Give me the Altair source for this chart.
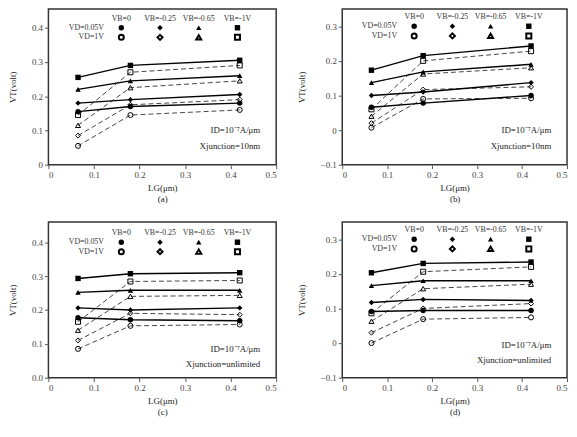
import altair as alt
import pandas as pd

FONT = "Liberation Serif"

# gate lengths (um)
LG = [0.065, 0.18, 0.42]
VB_LABELS = ["VB=0", "VB=-0.25", "VB=-0.65", "VB=-1V"]
SHAPES = ["circle", "diamond", "triangle-up", "square"]
LEGEND_X = [0.16, 0.245, 0.33, 0.415]

# series order: VB=0, VB=-0.25, VB=-0.65, VB=-1V
A_VD_LOW = [[0.155, 0.17, 0.18], [0.18, 0.19, 0.205], [0.22, 0.245, 0.26], [0.255, 0.29, 0.305]]
A_VD_HIGH = [[0.055, 0.145, 0.16], [0.085, 0.175, 0.19], [0.115, 0.225, 0.245], [0.145, 0.27, 0.29]]

B_VD_LOW = [[0.066, 0.078, 0.10], [0.10, 0.11, 0.137], [0.137, 0.168, 0.19], [0.173, 0.215, 0.243]]
B_VD_HIGH = [[0.007, 0.09, 0.092], [0.02, 0.117, 0.125], [0.04, 0.162, 0.18], [0.06, 0.20, 0.228]]

C_VD_LOW = [[0.177, 0.171, 0.168], [0.206, 0.20, 0.206], [0.252, 0.258, 0.258], [0.293, 0.307, 0.31]]
C_VD_HIGH = [[0.085, 0.153, 0.157], [0.11, 0.19, 0.186], [0.14, 0.24, 0.243], [0.165, 0.284, 0.287]]

D_VD_LOW = [[0.091, 0.094, 0.094], [0.117, 0.126, 0.123], [0.166, 0.18, 0.18], [0.203, 0.23, 0.234]]
D_VD_HIGH = [[0.0, 0.069, 0.074], [0.03, 0.10, 0.114], [0.063, 0.157, 0.17], [0.086, 0.206, 0.22]]


def series_frame(low, high):
    rows = []
    for vd, block in (("0.05V", low), ("1V", high)):
        for vb, vals in zip(VB_LABELS, block):
            for x, y in zip(LG, vals):
                rows.append({"vd": vd, "vb": vb, "lg": x, "vt": y})
    return pd.DataFrame(rows)


def make_panel(low, high, ydom, yticks, yfmt, caption, xj_text, ann_y, leg_y, dy, w):
    df = series_frame(low, high)
    xs = alt.X("lg:Q", scale=alt.Scale(domain=[0, 0.5], nice=False),
               axis=alt.Axis(values=[0, 0.1, 0.2, 0.3, 0.4, 0.5], format="~g",
                             title=["LG(μm)", caption]))
    ys = alt.Y("vt:Q", scale=alt.Scale(domain=ydom, nice=False),
               axis=alt.Axis(values=yticks, format=yfmt, title="VT(volt)", titlePadding=14))
    shape = alt.Shape("vb:N", scale=alt.Scale(domain=VB_LABELS, range=SHAPES), legend=None)
    base = alt.Chart(df).encode(x=xs, y=ys)
    solid = base.transform_filter(alt.datum.vd == "0.05V").mark_line(
        color="black", strokeWidth=1.4).encode(detail="vb:N")
    dashed = base.transform_filter(alt.datum.vd == "1V").mark_line(
        color="#444", strokeWidth=1.0, strokeDash=[5, 3]).encode(detail="vb:N")
    filled = base.transform_filter(alt.datum.vd == "0.05V").mark_point(
        filled=True, color="black", size=30, opacity=1).encode(shape=shape)
    opened = base.transform_filter(alt.datum.vd == "1V").mark_point(
        filled=False, color="black", size=26, strokeWidth=1, opacity=1).encode(shape=shape)

    leg_rows = []
    for lx, vb in zip(LEGEND_X, VB_LABELS):
        leg_rows.append({"lg": lx, "vt": leg_y, "vb": vb, "fill": "f"})
        leg_rows.append({"lg": lx, "vt": leg_y - dy, "vb": vb, "fill": "o"})
    leg = pd.DataFrame(leg_rows)
    leg_f = alt.Chart(leg).transform_filter(alt.datum.fill == "f").mark_point(
        filled=True, color="black", size=30, opacity=1).encode(x=xs, y=ys, shape=shape)
    leg_o = alt.Chart(leg).transform_filter(alt.datum.fill == "o").mark_point(
        filled=False, color="black", size=26, opacity=1).encode(x=xs, y=ys, shape=shape)

    head = pd.DataFrame({"lg": LEGEND_X, "vt": [leg_y + dy * 0.95] * 4, "t": VB_LABELS})
    head_t = alt.Chart(head).mark_text(font=FONT, fontSize=8, color="#333").encode(
        x=xs, y=ys, text="t:N")
    left = pd.DataFrame({"lg": [0.122, 0.122], "vt": [leg_y, leg_y - dy],
                         "t": ["VD=0.05V", "VD=1V"]})
    left_t = alt.Chart(left).mark_text(font=FONT, fontSize=8, align="right", color="#333").encode(
        x=xs, y=ys, text="t:N")
    ann = pd.DataFrame({"lg": [0.465, 0.465], "vt": [ann_y, ann_y - 0.045],
                        "t": ["ID=10⁻⁷A/μm", xj_text]})
    ann_t = alt.Chart(ann).mark_text(font=FONT, fontSize=9, align="right", color="#222").encode(
        x=xs, y=ys, text="t:N")

    return alt.layer(dashed, solid, opened, filled, leg_f, leg_o, head_t, left_t, ann_t).properties(
        width=w, height=158)


pa = make_panel(A_VD_LOW, A_VD_HIGH, [0, 0.455], [0, 0.1, 0.2, 0.3, 0.4], "~g", "(a)",
                "Xjunction=10nm", 0.1, 0.4, 0.028, 231)
pb = make_panel(B_VD_LOW, B_VD_HIGH, [-0.1, 0.35], [-0.1, 0, 0.1, 0.2, 0.3], "~g", "(b)",
                "Xjunction=10nm", 0.0, 0.3, 0.028, 228)
pc = make_panel(C_VD_LOW, C_VD_HIGH, [0, 0.46], [0, 0.1, 0.2, 0.3, 0.4], ".1f", "(c)",
                "Xjunction=unlimited", 0.085, 0.4, 0.028, 231)
pd_ = make_panel(D_VD_LOW, D_VD_HIGH, [-0.1, 0.35], [-0.1, 0, 0.1, 0.2, 0.3], "~g", "(d)",
                 "Xjunction=unlimited", -0.005, 0.3, 0.028, 228)

chart = alt.vconcat(
    alt.hconcat(pa, pb, spacing=18),
    alt.hconcat(pc, pd_, spacing=18),
    spacing=17,
).properties(padding={"top": -3, "left": 0, "right": 0, "bottom": 0}).configure_view(
    stroke="#333", strokeWidth=1.5
).configure_axis(
    grid=False, domain=False, tickColor="#555", tickSize=4,
    labelFont=FONT, labelFontSize=9, labelColor="#444",
    titleFont=FONT, titleFontSize=9, titleColor="#222", titleFontWeight="normal",
    titlePadding=4,
)

chart.save("out.html", embed_options={"renderer": "svg", "actions": False})
